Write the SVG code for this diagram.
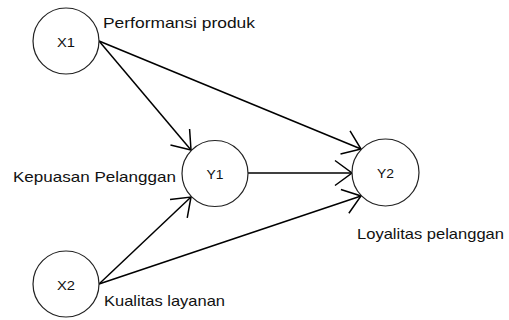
<svg xmlns="http://www.w3.org/2000/svg" width="509" height="320" viewBox="0 0 509 320">
<style>
.node circle{fill:#fff;stroke:#222;stroke-width:1.2}
.nl{font-family:"Liberation Sans",Arial,sans-serif;font-size:13.5px;fill:#111;text-anchor:middle}
.lbl{font-family:"Liberation Sans",Arial,sans-serif;font-size:15px;fill:#111}
.edge{stroke:#000;stroke-width:1.5;fill:none;marker-end:url(#arr)}
</style>
<defs>
<marker id="arr" markerUnits="userSpaceOnUse" orient="auto" refX="0" refY="0" markerWidth="40" markerHeight="40" overflow="visible">
<path d="M-17,-12.5 L0,0 L-17,12.5" fill="none" stroke="#000" stroke-width="1.5"/>
</marker>
</defs>
<rect width="509" height="320" fill="#fff"/>
<g id="connectors">
<line class="edge" x1="99" y1="41" x2="191" y2="150"/>
<line class="edge" x1="99" y1="41" x2="361" y2="149"/>
<line class="edge" x1="248" y1="173" x2="352" y2="173"/>
<line class="edge" x1="99" y1="284" x2="191" y2="197"/>
<line class="edge" x1="99" y1="284" x2="361" y2="196"/>
</g>
<g id="X1" class="node"><circle cx="66" cy="41" r="33"/><text class="nl" x="66" y="46.5" textLength="18" lengthAdjust="spacingAndGlyphs">X1</text></g>
<g id="X2" class="node"><circle cx="66" cy="284" r="33"/><text class="nl" x="66" y="289.5" textLength="18" lengthAdjust="spacingAndGlyphs">X2</text></g>
<g id="Y1" class="node"><circle cx="215" cy="173.5" r="33"/><text class="nl" x="215" y="178.5" textLength="17" lengthAdjust="spacingAndGlyphs">Y1</text></g>
<g id="Y2" class="node"><circle cx="385.5" cy="172.5" r="33.5"/><text class="nl" x="385.5" y="178" textLength="17" lengthAdjust="spacingAndGlyphs">Y2</text></g>
<g id="labels">
<text class="lbl" x="103" y="28" textLength="152" lengthAdjust="spacingAndGlyphs">Performansi produk</text>
<text class="lbl" x="13" y="182" textLength="163" lengthAdjust="spacingAndGlyphs">Kepuasan Pelanggan</text>
<text class="lbl" x="357" y="239" textLength="147" lengthAdjust="spacingAndGlyphs">Loyalitas pelanggan</text>
<text class="lbl" x="104" y="306" textLength="121" lengthAdjust="spacingAndGlyphs">Kualitas layanan</text>
</g>
</svg>
